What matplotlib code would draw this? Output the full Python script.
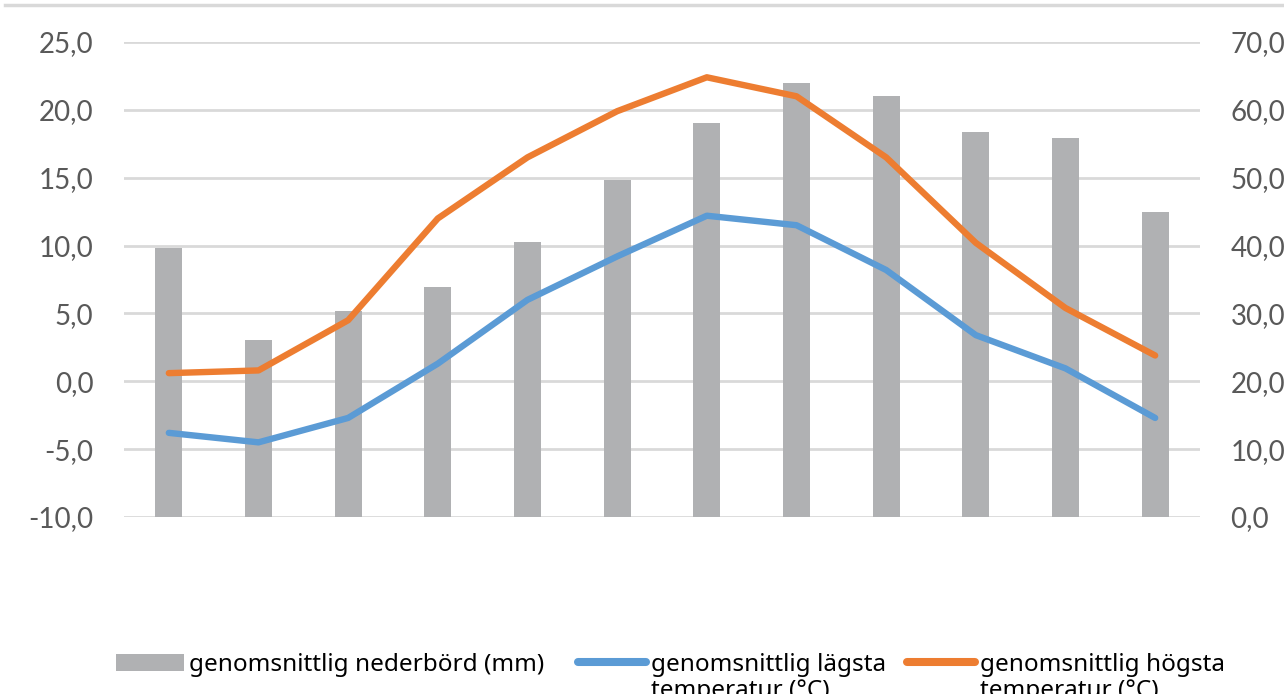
import matplotlib
matplotlib.use("Agg")
import matplotlib.pyplot as plt
from matplotlib.patches import Patch
from matplotlib.lines import Line2D
from matplotlib.text import Annotation
import numpy as np

months = list(range(1, 13))
precip_mm = [39.7, 26.1, 30.3, 33.9, 40.6, 49.6, 58.0, 64.0, 62.1, 56.7, 55.9, 45.0]
temp_low = [-3.8, -4.5, -2.7, 1.3, 6.0, 9.2, 12.2, 11.5, 8.2, 3.4, 0.95, -2.7]
temp_high = [0.6, 0.8, 4.5, 12.0, 16.5, 19.9, 22.4, 21.0, 16.5, 10.2, 5.4, 1.9]
left_ticks = [-10, -5, 0, 5, 10, 15, 20, 25]
right_ticks = [0, 10, 20, 30, 40, 50, 60, 70]
label_first = ["genomsnittlig nederbörd (mm)",
               "genomsnittlig lägsta",
               "genomsnittlig högsta"]
label_second = [None, "temperatur (°C)", "temperatur (°C)"]

BAR = "#b0b1b3"
BLUE = "#5b9bd5"
ORANGE = "#ed7d31"
GRID = "#d9d9d9"
TXT = "#595959"

W, H = 1284, 694
fig = plt.figure(figsize=(W / 100, H / 100), dpi=100)
ax = fig.add_axes([124 / W, 1 - 517 / H, (1200 - 124) / W, (517 - 42) / H])
ax2 = ax.twinx()

x = np.arange(len(months))
ax2.bar(x, precip_mm, width=0.3, color=BAR, zorder=2)
ax2.set_ylim(0, 70)
ax2.set_yticks(right_ticks)
ax2.set_yticklabels([f"{v:.1f}".replace(".", ",") for v in right_ticks])

ax.set_zorder(ax2.get_zorder() + 1)
ax.patch.set_visible(False)
ax.plot(x, temp_low, color=BLUE, lw=4.6, solid_capstyle="round", solid_joinstyle="round", zorder=3)
ax.plot(x, temp_high, color=ORANGE, lw=4.6, solid_capstyle="round", solid_joinstyle="round", zorder=3)
ax.set_ylim(-10, 25)
ax.set_xlim(-0.5, 11.5)
ax.set_yticks(left_ticks)
ax.set_yticklabels([f"{v:.1f}".replace(".", ",") for v in left_ticks])
ax.set_xticks([])

for v in right_ticks:
    ax2.axhline(v, color=GRID, lw=2, zorder=1)

for a in (ax, ax2):
    for s in a.spines.values():
        s.set_visible(False)
    a.tick_params(axis="y", length=0, labelsize=20, labelcolor=TXT, pad=22)
    for t in a.get_yticklabels():
        t.set_fontfamily(["Lato", "DejaVu Sans"])

fig.add_artist(Line2D([5 / W, 1.0], [1 - 5 / H, 1 - 5 / H], color=GRID, lw=2.5, transform=fig.transFigure))

handles = [Patch(facecolor=BAR, edgecolor="none"),
           Line2D([0], [0], color=BLUE, lw=5.8, solid_capstyle="round"),
           Line2D([0], [0], color=ORANGE, lw=5.8, solid_capstyle="round")]
handle_x = [116, 578, 907]
FS = 17.5
prop = {"family": ["Noto Sans", "DejaVu Sans"], "size": FS}
for h, lab1, lab2, hx in zip(handles, label_first, label_second, handle_x):
    leg = fig.legend([h], [lab1], loc="center left",
                     bbox_to_anchor=(hx / W, 1 - 665 / H),
                     frameon=False, prop=prop,
                     handlelength=2.8, handleheight=0.7, handletextpad=0.2,
                     borderaxespad=0, borderpad=0)
    leg.set_zorder(5)
    txt = leg.get_texts()[0]
    txt.set_color("black")
    if lab2:
        ann = Annotation(lab2, xy=(0, 1), xycoords=txt, xytext=(0, -19),
                         textcoords="offset points", va="top", ha="left",
                         color="black", fontsize=FS,
                         fontfamily=["Noto Sans", "DejaVu Sans"])
        ann.set_zorder(6)
        fig.add_artist(ann)

fig.savefig("out.png", dpi=100)
